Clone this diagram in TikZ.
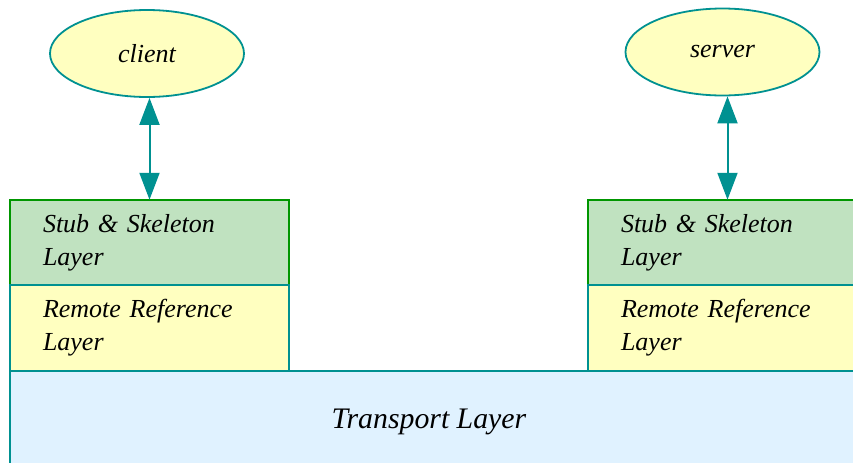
\documentclass[tikz,border=0pt]{standalone}
\usepackage{fontspec}
\setmainfont{Liberation Serif}
\usetikzlibrary{positioning,arrows.meta,shapes.geometric}
\definecolor{tealline}{RGB}{0,145,145}
\definecolor{greenline}{RGB}{0,150,0}
\definecolor{stubfill}{RGB}{192,226,192}
\definecolor{yellowfill}{RGB}{255,255,192}
\definecolor{transfill}{RGB}{224,242,255}
\tikzset{
  layerbox/.style={rectangle, draw=tealline, fill=yellowfill, line width=0.9pt,
    minimum width=139.5pt, minimum height=42.75pt, text width=106.5pt,
    inner xsep=16.5pt, inner ysep=0pt, outer sep=0pt, align=left,
    font=\fontsize{13}{16.5}\selectfont\itshape},
  stubbox/.style={layerbox, draw=greenline, fill=stubfill},
  endpoint/.style={ellipse, draw=tealline, fill=yellowfill, line width=0.9pt,
    minimum width=97pt, minimum height=43.5pt, inner sep=0pt,
    font=\fontsize{13}{15}\selectfont\itshape},
  link/.style={draw=tealline, line width=1pt,
    {Triangle[length=13.5pt,width=10pt]}-{Triangle[length=13.5pt,width=10pt]}}
}
\begin{document}
\begin{tikzpicture}[x=0.5pt, y=0.5pt, node distance=0pt]
  \clip (0,0) rectangle (853,462);
  \useasboundingbox (0,0) rectangle (853,462);
  % transport layer across the bottom
  \node[rectangle, draw=tealline, fill=transfill, line width=0.9pt, anchor=north west,
    minimum width=450pt, minimum height=60pt, outer sep=0pt] (trans) at (10,91) {};
  \node[font=\fontsize{14.9}{17}\selectfont\itshape] (translabel) at (429,40) {Transport Layer};
  % client side
  \node[stubbox] (stubL) at (149.5,219.5) {Stub \& Skeleton\\Layer};
  \node[layerbox, below=of stubL] (remL) {Remote Reference\\Layer};
  \node[endpoint] (client) at (147,408.5) {client};
  % server side
  \node[stubbox] (stubR) at (727.5,219.5) {Stub \& Skeleton\\Layer};
  \node[layerbox, below=of stubR] (remR) {Remote Reference\\Layer};
  \node[endpoint] (server) at (722.5,410) {server};
  \draw[link] (stubL.north |- client.south) -- (stubL.north);
  \draw[link] (stubR.north |- server.south) -- (stubR.north);
\end{tikzpicture}
\end{document}
